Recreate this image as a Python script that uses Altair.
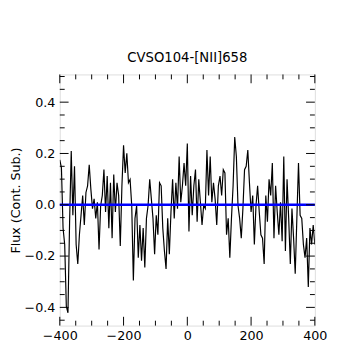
import altair as alt
import numpy as np
import pandas as pd

# Flux (continuum subtracted), left to right
flux = [
    # -400 .. ~-215
    0.175, 0.144, -0.091, -0.155, -0.396, -0.421, -0.066, 0.210, -0.041, 0.150,
    -0.155, -0.231, -0.117, -0.041, 0.036, -0.079, 0.048, 0.074, 0.156, 0.061,
    -0.015, 0.023, -0.053, 0.010, -0.174, -0.003, 0.036, 0.137, -0.028, 0.112,
    -0.091, 0.086, -0.130, 0.118, -0.028, 0.086, 0.036,
    # ~-210 .. ~-15
    -0.161, 0.074, 0.232, 0.124, 0.201, 0.086, 0.099, -0.003, -0.295, -0.053,
    -0.003, -0.206, -0.079, -0.218, -0.091, -0.244, -0.053, -0.003, 0.099, 0.023,
    -0.053, -0.193, -0.041, -0.117, 0.086, 0.074, -0.091, -0.180, -0.250, -0.053,
    -0.193, -0.028, 0.099, -0.053, 0.086, -0.015, 0.188, 0.010, 0.074,
    # ~-10 .. ~185
    0.163, 0.074, 0.239, -0.104, 0.112, -0.041, 0.074, 0.137, -0.066, 0.099,
    0.010, -0.079, -0.003, -0.015, 0.213, 0.036, 0.188, 0.010, 0.086, 0.023,
    -0.079, 0.074, 0.112, 0.036, 0.137, 0.124, -0.117, -0.053, -0.206, -0.053,
    0.074, 0.264, 0.188, -0.003, -0.053, -0.130, -0.015, 0.137, 0.150,
    # ~190 .. 400
    0.213, 0.086, -0.028, 0.036, -0.155, -0.003, 0.074, -0.028, -0.117, -0.130,
    -0.231, 0.036, -0.066, 0.099, 0.036, 0.163, -0.130, 0.074, -0.028, -0.117,
    0.010, -0.142, 0.188, -0.180, 0.099, -0.053, -0.231, -0.015, -0.130, -0.269,
    -0.053, 0.163, -0.041, -0.053, -0.155, -0.206, -0.130, -0.320, -0.091, -0.155,
    -0.079, -0.155,
]
velocity = np.linspace(-400, 400, len(flux))

x_major = [-400, -200, 0, 200, 400]
x_minor = [-350, -300, -250, -150, -100, -50, 50, 100, 150, 250, 300, 350]
y_major = [-0.4, -0.2, 0.0, 0.2, 0.4]
y_minor = [-0.45, -0.35, -0.3, -0.25, -0.15, -0.1, -0.05, 0.05, 0.1, 0.15,
           0.25, 0.3, 0.35, 0.45, 0.5]

X_DOMAIN = [-400, 400]
Y_DOMAIN = [-0.471, 0.508]

W, H = 261, 257
MAJ, MIN = 9, 5
FONT = "DejaVu Sans"

xs = alt.Scale(domain=X_DOMAIN, nice=False, zero=False)
ys = alt.Scale(domain=Y_DOMAIN, nice=False, zero=False)

x_axis = alt.Axis(
    values=x_major, format="d", ticks=False, domain=False, grid=False,
    labelPadding=4, labelFontSize=13, labelColor="black", labelFont=FONT,
    labelFlush=False, title=None)
y_axis = alt.Axis(
    values=y_major, format=".1f", ticks=False, domain=False, grid=False,
    labelPadding=5, labelFontSize=13, labelColor="black", labelFont=FONT,
    labelFlush=False, title="Flux (Cont. Sub.)", titleFontSize=13,
    titleFont=FONT, titleFontWeight="normal", titleColor="black",
    titlePadding=2)

df = pd.DataFrame({"v": velocity, "f": flux})

line = alt.Chart(df).mark_line(color="black", strokeWidth=1.2, clip=True).encode(
    x=alt.X("v:Q", scale=xs, axis=x_axis),
    y=alt.Y("f:Q", scale=ys, axis=y_axis),
)

zero = alt.Chart(pd.DataFrame({"f": [0.0]})).mark_rule(
    color="#0000ff", strokeWidth=2.5).encode(y=alt.Y("f:Q", scale=ys, axis=y_axis))


def xticks(vals, length):
    d = pd.DataFrame({"v": vals})
    base = alt.Chart(d).mark_rule(color="black", strokeWidth=1)
    xe = alt.X("v:Q", scale=xs, axis=x_axis)
    return [
        base.encode(x=xe, y=alt.value(H), y2=alt.value(H - length)),
        base.encode(x=xe, y=alt.value(0), y2=alt.value(length)),
    ]


def yticks(vals, length):
    d = pd.DataFrame({"f": vals})
    base = alt.Chart(d).mark_rule(color="black", strokeWidth=1)
    ye = alt.Y("f:Q", scale=ys, axis=y_axis)
    return [
        base.encode(y=ye, x=alt.value(0), x2=alt.value(length)),
        base.encode(y=ye, x=alt.value(W), x2=alt.value(W - length)),
    ]


layers = [line, zero] + xticks(x_major, MAJ) + xticks(x_minor, MIN) \
    + yticks(y_major, MAJ) + yticks(y_minor, MIN)

chart = alt.layer(*layers).properties(
    width=W, height=H,
    title=alt.TitleParams("CVSO104-[NII]658", fontSize=13.5, font=FONT,
                          fontWeight="normal", color="black", offset=10),
    autosize=alt.AutoSizeParams(type="none"),
    padding={"left": 53, "top": 64, "right": 37, "bottom": 23},
).configure_view(stroke="black", strokeWidth=1).configure(font=FONT)

chart.save("out.html", embed_options={"renderer": "svg", "actions": False})
